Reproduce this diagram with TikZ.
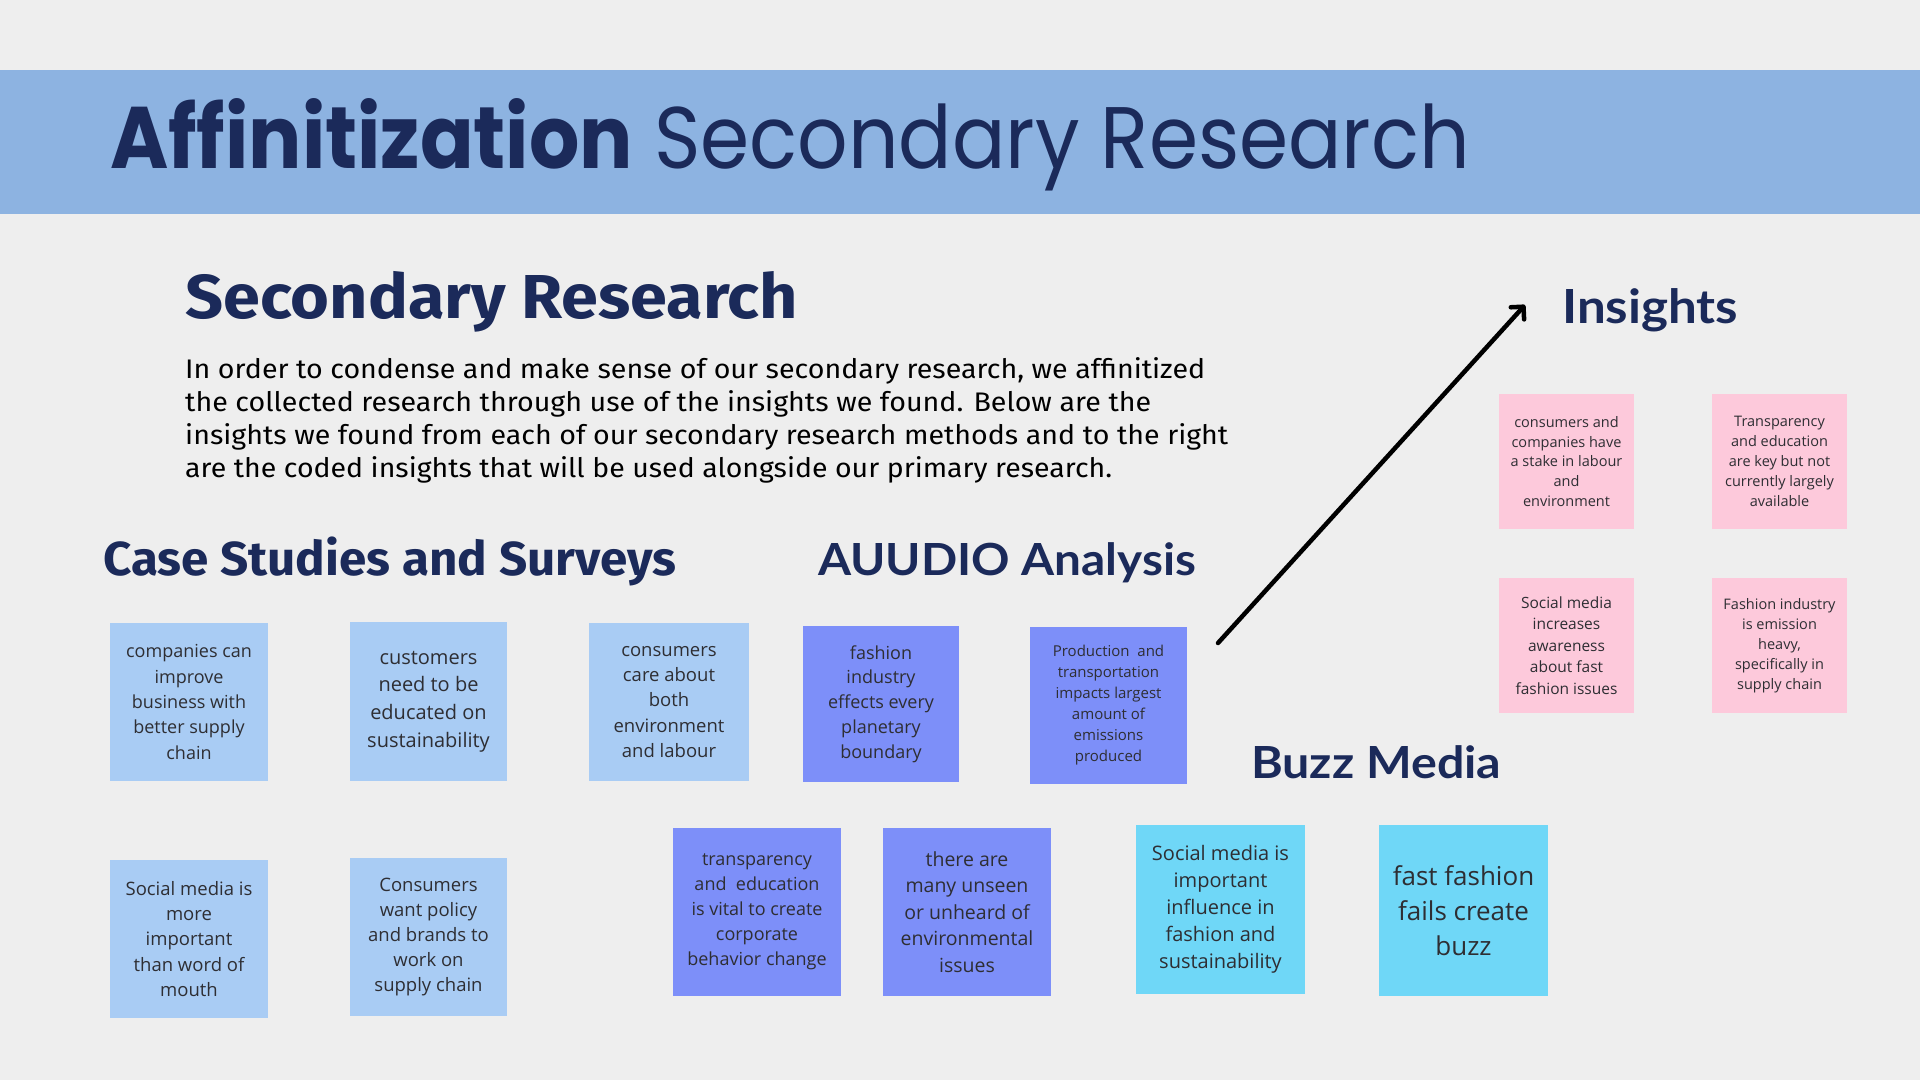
\documentclass[tikz,border=0pt]{standalone}
\usepackage{fontspec}
\usepackage{graphicx}
\usetikzlibrary{arrows.meta}
\setmainfont{Open Sans}
\newfontfamily\titlefont{Poppins}
\newfontfamily\headfont{Fira Sans}
\newfontfamily\headfontB{Lato}
\definecolor{bg}{HTML}{EEEEEE}
\definecolor{band}{HTML}{8DB3E1}
\definecolor{navy}{HTML}{1B2A5A}
\definecolor{lb}{HTML}{A9CCF4}
\definecolor{pb}{HTML}{7D8FF9}
\definecolor{cy}{HTML}{6FD7F7}
\definecolor{pk}{HTML}{FDC9DB}
\definecolor{notetext}{HTML}{2E2E33}
\newcommand\fitt[3]{\resizebox{#1}{#2}{\rule{0pt}{\fontcharht\font`H}\smash{#3}}}
\newcommand\fs[2]{\fontsize{#1}{#2}\selectfont}
\tikzset{
  note/.style={inner sep=0pt, align=center, text=notetext},
  heading/.style={anchor=base west, inner sep=0pt, text=navy},
  para/.style={anchor=base west, inner sep=0pt, text=black, font=\headfont\fs{27}{27}},
}
\begin{document}
\begin{tikzpicture}[x=1pt,y=-1pt]
\fill[bg] (0,0) rectangle (1920,1080);
\useasboundingbox (0,0) rectangle (1920,1080);
\fill[band] (0,70) rectangle (1920,214);

\node[heading, font=\titlefont\fs{80}{80}] (title) at (110,168)
  {\fitt{1360pt}{61pt}{\textbf{Affinitization} Secondary Research}};

\node[heading, font=\headfont\bfseries\fs{60}{60}] (sr) at (185,318)
  {\fitt{613pt}{43pt}{Secondary Research}};

\node[para] (l1) at (185,378) {\fitt{1020pt}{18.5pt}{In order to condense and make sense of our secondary research, we affinitized}};
\node[para] (l2) at (185,411) {\fitt{966pt}{18.5pt}{the collected research through use of the insights we found. Below are the}};
\node[para] (l3) at (185,444) {\fitt{1043pt}{18.5pt}{insights we found from each of our secondary research methods and to the right}};
\node[para] (l4) at (185,477) {\fitt{927pt}{18.5pt}{are the coded insights that will be used alongside our primary research.}};

\node[heading, font=\headfont\bfseries\fs{48}{48}] (h1) at (103,575) {\fitt{573pt}{33pt}{Case Studies and Surveys}};
\node[heading, font=\headfontB\bfseries\fs{46}{46}] (h2) at (818,575) {\fitt{378pt}{32pt}{AUUDIO Analysis}};
\node[heading, font=\headfontB\bfseries\fs{46}{46}] (h3) at (1251,778) {\fitt{250pt}{32pt}{Buzz Media}};
\node[heading, font=\headfontB\bfseries\fs{48}{48}] (h4) at (1562,323) {\fitt{176pt}{34pt}{Insights}};

% Case studies and surveys
\node[note, fill=lb, minimum width=158pt, minimum height=158pt, font=\fs{18}{25.3}] (n1) at (189,702)
  {companies can\\improve\\business with\\better supply\\chain};
\node[note, fill=lb, minimum width=157pt, minimum height=159pt, font=\fs{20}{27.8}] (n2) at (428.5,701.5)
  {customers\\need to be\\educated on\\sustainability};
\node[note, fill=lb, minimum width=160pt, minimum height=158pt, font=\fs{18.5}{25.4}] (n3) at (669,702)
  {consumers\\care about\\both\\environment\\and labour};
\node[note, fill=lb, minimum width=158pt, minimum height=158pt, font=\fs{18.5}{25.1}] (n6) at (189,939)
  {Social media is\\more\\important\\than word of\\mouth};
\node[note, fill=lb, minimum width=157pt, minimum height=158pt, font=\fs{18.5}{25.1}] (n7) at (428.5,937)
  {Consumers\\want policy\\and brands to\\work on\\supply chain};

% AUUDIO analysis
\node[note, fill=pb, minimum width=156pt, minimum height=156pt, font=\fs{18}{24.8}] (n4) at (881,704)
  {fashion\\industry\\effects every\\planetary\\boundary};
\node[note, fill=pb, minimum width=157pt, minimum height=157pt, font=\fs{15}{21}] (n5) at (1108.5,705.5)
  {Production\ \ and\\transportation\\impacts largest\\amount of\\emissions\\produced};
\node[note, fill=pb, minimum width=168pt, minimum height=168pt, font=\fs{18}{25}] (n8) at (757,912)
  {transparency\\and\ \ education\\is vital to create\\corporate\\behavior change};
\node[note, fill=pb, minimum width=168pt, minimum height=168pt, font=\fs{19.5}{26.6}] (n9) at (967,912)
  {there are\\many unseen\\or unheard of\\environmental\\issues};

% Buzz media
\node[note, fill=cy, minimum width=169pt, minimum height=169pt, font=\fs{20}{27}] (n10) at (1220.5,909.5)
  {Social media is\\important\\influence in\\fashion and\\sustainability};
\node[note, fill=cy, minimum width=169pt, minimum height=171pt, font=\fs{26}{35}] (n11) at (1463.5,910.5)
  {fast fashion\\fails create\\buzz};

% Insights
\node[note, fill=pk, minimum width=135pt, minimum height=135pt, font=\fs{14.5}{19.9}] (p1) at (1566.5,461.5)
  {consumers and\\companies have\\a stake in labour\\and\\environment};
\node[note, fill=pk, minimum width=135pt, minimum height=135pt, font=\fs{14.5}{19.9}] (p2) at (1779.5,461.5)
  {Transparency\\and education\\are key but not\\currently largely\\available};
\node[note, fill=pk, minimum width=135pt, minimum height=135pt, font=\fs{15.5}{21.4}] (p3) at (1566.5,645.5)
  {Social media\\increases\\awareness\\about fast\\fashion issues};
\node[note, fill=pk, minimum width=135pt, minimum height=135pt, font=\fs{14.5}{20}] (p4) at (1779.5,645.5)
  {Fashion industry\\is emission\\heavy,\\specifically in\\supply chain};

% arrow
\coordinate (a1) at (1218,643);
\coordinate (a2) at (1525,305);
\draw[line width=4.5pt, line cap=round, -{Straight Barb[length=9pt, width=18pt, line width=4.5pt, round]}] (a1) -- (a2);
\end{tikzpicture}
\end{document}
